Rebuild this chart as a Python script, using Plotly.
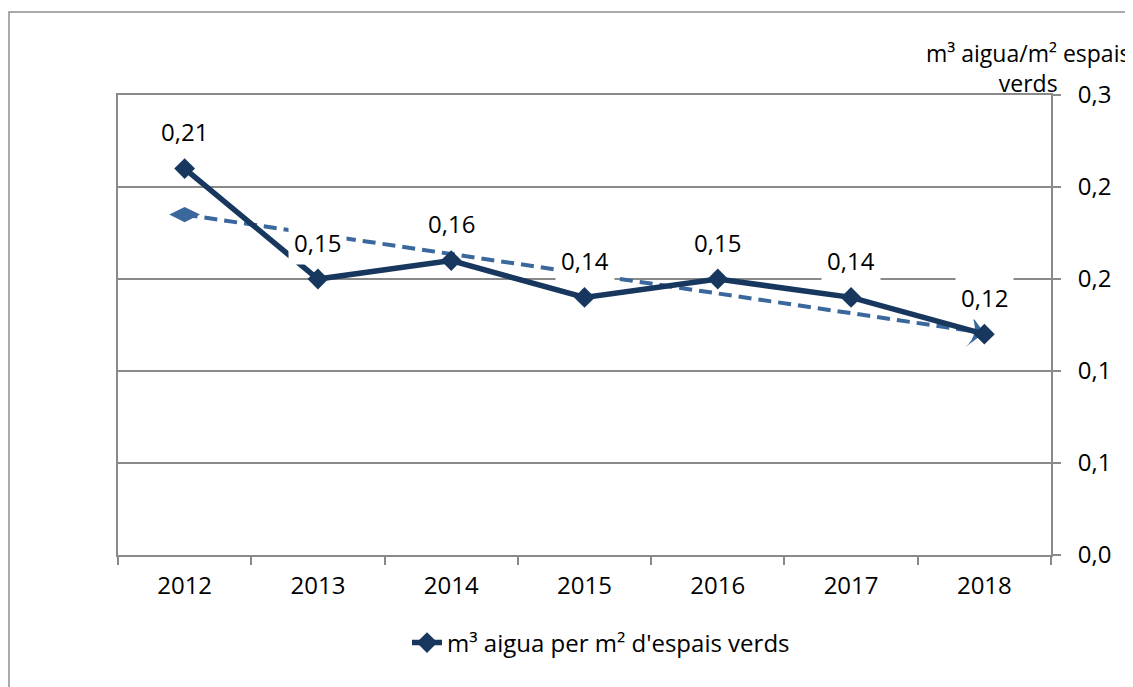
import numpy as np
import plotly.graph_objects as go

years = ["2012", "2013", "2014", "2015", "2016", "2017", "2018"]
water_per_m2 = [0.21, 0.15, 0.16, 0.14, 0.15, 0.14, 0.12]

y_tickvals = [0.0, 0.05, 0.10, 0.15, 0.20, 0.25]
y_ticktext = ["0,0", "0,1", "0,1", "0,2", "0,2", "0,3"]

series_name = "m³ aigua per m² d'espais verds"
y_title = "m³ aigua/m² espais<br>verds"

# linear trend (as the spreadsheet trendline)
idx = np.arange(len(years))
slope, intercept = np.polyfit(idx, water_per_m2, 1)
trend_x = [years[0], years[-1]]
trend_y = [intercept, intercept + slope * idx[-1]]

W, H = 1133, 687
# plot area in page pixels; the page body adds ~7px margin
L, R, T, B = 117, 1050, 94, 554
OFF = 7
FONT = "Open Sans"
FS = 24
GRID = "#8a8a8a"
NAVY = "#17375E"
TREND = "#3A679C"


def px_x(p):
    return (p - L) / (R - L)


def px_y(p):
    return (B - p) / (B - T)


# on-screen angle of the trend line, for the arrow head
dx_px = (R - L) / len(years) * idx[-1]
dy_px = (trend_y[0] - trend_y[1]) / 0.25 * (B - T)
arrow_angle = float(90 + np.degrees(np.arctan2(dy_px, dx_px)))

fig = go.Figure()

fig.add_trace(
    go.Scatter(
        x=trend_x,
        y=trend_y,
        mode="lines",
        line=dict(color=TREND, width=4, dash="13px,7px"),
        showlegend=False,
        hoverinfo="skip",
    )
)
# trendline end caps: diamond at the start, arrow head at the end
fig.add_trace(
    go.Scatter(
        x=trend_x,
        y=trend_y,
        mode="markers",
        marker=dict(
            symbol=["diamond-wide", "arrow-wide"],
            size=[22, 24],
            angle=[0, arrow_angle],
            color=TREND,
            opacity=1,
            line=dict(width=0),
        ),
        showlegend=False,
        hoverinfo="skip",
    )
)

fig.add_trace(
    go.Scatter(
        x=years,
        y=water_per_m2,
        mode="lines+markers",
        name=series_name,
        line=dict(color=NAVY, width=5.5),
        marker=dict(symbol="diamond", size=16, color=NAVY),
    )
)

# data labels, placed by category index
for i, v in enumerate(water_per_m2):
    fig.add_annotation(
        x=i,
        y=v,
        yshift=37,
        text=f"{v:.2f}".replace(".", ","),
        showarrow=False,
        bgcolor="white",
        borderpad=5,
        font=dict(family=FONT, size=FS, color="black"),
    )

fig.add_annotation(
    xref="paper",
    yref="paper",
    x=px_x(1027),
    y=px_y(67),
    text=y_title,
    showarrow=False,
    align="center",
    xanchor="center",
    yanchor="middle",
    font=dict(family=FONT, size=23, color="black"),
)

# outer chart frame
fig.add_shape(
    type="rect",
    xref="paper",
    yref="paper",
    x0=px_x(8),
    x1=px_x(1150),
    y0=px_y(710),
    y1=px_y(11),
    line=dict(color="#8f8f8f", width=1.5),
    layer="below",
)

fig.update_layout(
    width=W,
    height=H,
    margin=dict(l=L - OFF, r=W - R + OFF, t=T - OFF, b=H - B + OFF, autoexpand=False),
    paper_bgcolor="white",
    plot_bgcolor="white",
    font=dict(family=FONT, size=FS, color="black"),
    showlegend=True,
    legend=dict(
        x=px_x(600),
        y=px_y(642),
        xanchor="center",
        yanchor="middle",
        orientation="h",
        font=dict(family=FONT, size=FS, color="black"),
    ),
)

fig.update_xaxes(
    type="category",
    categoryorder="array",
    categoryarray=years,
    range=[-0.5, len(years) - 0.5],
    showline=True,
    linecolor=GRID,
    linewidth=2,
    mirror=True,
    ticks="outside",
    tickson="boundaries",
    ticklen=8,
    tickwidth=2,
    tickcolor=GRID,
    tickangle=0,
    showgrid=False,
    ticklabelstandoff=8,
    tickfont=dict(family=FONT, size=FS, color="black"),
)

fig.update_yaxes(
    side="right",
    range=[0, 0.25],
    tickvals=y_tickvals,
    ticktext=y_ticktext,
    showline=True,
    linecolor=GRID,
    linewidth=2,
    mirror=True,
    ticks="outside",
    ticklen=8,
    tickwidth=2,
    tickcolor=GRID,
    showgrid=True,
    gridcolor=GRID,
    gridwidth=2,
    zeroline=False,
    ticklabelstandoff=12,
    tickfont=dict(family=FONT, size=FS, color="black"),
)

fig.write_html("out.html")
